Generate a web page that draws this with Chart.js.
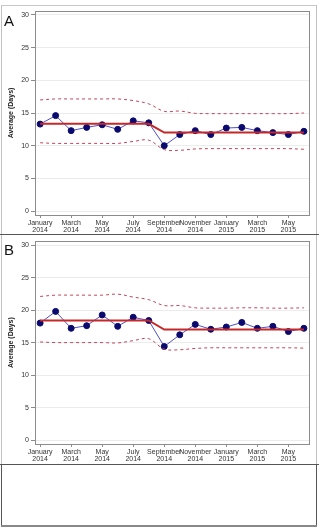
<!DOCTYPE html>
<html>
<head>
<meta charset="utf-8">
<script src="https://cdn.jsdelivr.net/npm/chart.js@4.4.1/dist/chart.umd.min.js"></script>
<style>
  html, body { margin: 0; padding: 0; background: #fff; }
  #wrap { position: relative; width: 319px; height: 530px; overflow: hidden; }
  canvas { position: absolute; left: 0; }
  .ln { position: absolute; }
  .lbl { position: absolute; font-family: "Liberation Sans", Arial, sans-serif; font-size: 15px; color: #111; }
</style>
</head>
<body>
<div id="wrap">
  <canvas id="chartA" width="319" height="235" style="top:0"></canvas>
  <canvas id="chartB" width="319" height="229" style="top:235px"></canvas>

  <!-- panel frames -->
  <div class="ln" style="left:1px;top:5px;width:316px;height:1px;background:#c8c8c8"></div>
  <div class="ln" style="left:1px;top:5px;width:1px;height:230px;background:#c0c0c0"></div>
  <div class="ln" style="left:316px;top:5px;width:1px;height:230px;background:#c0c0c0"></div>
  <div class="ln" style="left:0;top:234px;width:319px;height:1px;background:#555"></div>
  <div class="ln" style="left:1px;top:235px;width:1px;height:229px;background:#c0c0c0"></div>
  <div class="ln" style="left:316px;top:235px;width:1px;height:229px;background:#c0c0c0"></div>
  <div class="ln" style="left:0;top:464px;width:319px;height:1px;background:#555"></div>
  <div class="ln" style="left:1px;top:464px;width:1px;height:62px;background:#555"></div>
  <div class="ln" style="left:316px;top:464px;width:1px;height:62px;background:#555"></div>
  <div class="ln" style="left:1px;top:525px;width:316px;height:2px;background:#888"></div>

  <div class="lbl" style="left:4px;top:12px">A</div>
  <div class="lbl" style="left:4px;top:241px">B</div>
</div>

<script>
// month-by-month, January 2014 .. June 2015
var tickLabels = [
  ["January", "2014"], ["March", "2014"], ["May", "2014"], ["July", "2014"],
  ["September", "2014"], ["November", "2014"], ["January", "2015"], ["March", "2015"], ["May", "2015"]
];

// panel A
var avgA    = [13.3, 14.6, 12.3, 12.8, 13.2, 12.5, 13.8, 13.5, 10.0, 11.7, 12.3, 11.7, 12.7, 12.8, 12.3, 12.0, 11.7, 12.2];
var centerA = [13.35, 13.35, 13.35, 13.35, 13.35, 13.35, 13.35, 13.35, 12.0, 12.0, 12.0, 12.0, 12.0, 12.0, 12.0, 12.0, 12.0, 12.0];
var uclA    = [17.0, 17.15, 17.15, 17.15, 17.15, 17.15, 16.9, 16.4, 15.25, 15.3, 14.95, 14.9, 14.9, 14.9, 14.9, 14.9, 14.9, 15.0];
var lclA    = [10.45, 10.35, 10.35, 10.35, 10.35, 10.35, 10.65, 10.85, 9.4, 9.3, 9.5, 9.55, 9.55, 9.55, 9.55, 9.55, 9.55, 9.45];

// panel B
var avgB    = [18.0, 19.8, 17.2, 17.6, 19.25, 17.5, 18.9, 18.4, 14.4, 16.2, 17.8, 17.05, 17.4, 18.1, 17.2, 17.5, 16.7, 17.2];
var centerB = [18.4, 18.4, 18.4, 18.4, 18.4, 18.4, 18.4, 18.4, 17.0, 17.0, 17.0, 17.0, 17.0, 17.0, 17.0, 17.0, 17.0, 17.0];
var uclB    = [22.1, 22.3, 22.3, 22.3, 22.3, 22.45, 22.0, 21.6, 20.7, 20.7, 20.35, 20.3, 20.3, 20.35, 20.35, 20.3, 20.3, 20.35];
var lclB    = [15.1, 15.0, 15.0, 15.0, 15.0, 14.95, 15.3, 15.6, 14.0, 13.9, 14.1, 14.2, 14.2, 14.2, 14.2, 14.2, 14.2, 14.15];

var yTicks = [0, 5, 10, 15, 20, 25, 30];

function pts(arr)
{
        return arr.map(function(v, i) { return { x: i, y: v }; });
}

// frame round the plot area
var frame = {
        id: "frame",
        afterDraw: function(chart)
        {
                var a = chart.chartArea;
                var c = chart.ctx;
                c.save();
                c.strokeStyle = "#8c8c8c";
                c.lineWidth = 1;
                c.strokeRect(Math.round(a.left) + 0.5, Math.round(a.top) + 0.5,
                             Math.round(a.right - a.left), Math.round(a.bottom - a.top));
                c.restore();
        }
};

function makeChart(id, avg, center, ucl, lcl, padTop)
{
        var ctx = document.getElementById(id).getContext("2d");
        var limitStyle = {
                borderColor: "#c2455a",
                borderWidth: 1,
                borderDash: [3, 3],
                pointRadius: 0,
                tension: 0.35,
                fill: false
        };
        return new Chart(ctx, {
                type: "line",
                data: {
                        datasets: [
                                Object.assign({ data: pts(ucl) }, limitStyle),
                                Object.assign({ data: pts(lcl) }, limitStyle),
                                {
                                        data: pts(center),
                                        borderColor: "#c62828",
                                        borderWidth: 2,
                                        pointRadius: 0,
                                        tension: 0
                                },
                                {
                                        data: pts(avg),
                                        borderColor: "#5050c8",
                                        borderWidth: 1,
                                        pointRadius: 3,
                                        pointBackgroundColor: "#0a0a6e",
                                        pointBorderColor: "#0a0a6e",
                                        tension: 0
                                }
                        ]
                },
                options: {
                        responsive: false,
                        animation: false,
                        devicePixelRatio: 1,
                        layout: { padding: { top: padTop, right: 10, left: 0, bottom: 0 } },
                        plugins: { legend: { display: false }, tooltip: { enabled: false } },
                        scales: {
                                x: {
                                        type: "linear",
                                        min: -0.33,
                                        max: 17.33,
                                        afterBuildTicks: function(scale)
                                        {
                                                scale.ticks = tickLabels.map(function(t, i) { return { value: i * 2 }; });
                                        },
                                        afterFit: function(scale) { scale.height = 20; },
                                        border: { display: false },
                                        grid: { drawOnChartArea: false, drawTicks: true, tickLength: 3, tickColor: "#8c8c8c" },
                                        ticks: {
                                                autoSkip: false,
                                                maxRotation: 0,
                                                padding: 1,
                                                color: "#333",
                                                font: { family: "Liberation Sans", size: 7, lineHeight: 1.1 },
                                                callback: function(value) { return tickLabels[value / 2]; }
                                        }
                                },
                                y: {
                                        min: -0.6,
                                        max: 30.6,
                                        afterBuildTicks: function(scale)
                                        {
                                                scale.ticks = yTicks.map(function(v) { return { value: v }; });
                                        },
                                        afterFit: function(scale) { scale.width = 35; },
                                        border: { display: false },
                                        grid: { color: "#ececec", tickColor: "#8c8c8c", tickLength: 4 },
                                        ticks: {
                                                padding: 2,
                                                color: "#333",
                                                font: { family: "Liberation Sans", size: 7 }
                                        },
                                        title: {
                                                display: true,
                                                text: "Average (Days)",
                                                color: "#222",
                                                padding: { top: 7, bottom: 0 },
                                                font: { family: "Liberation Sans", size: 7, weight: "bold" }
                                        }
                                }
                        }
                },
                plugins: [frame]
        });
}

makeChart("chartA", avgA, centerA, uclA, lclA, 11);
makeChart("chartB", avgB, centerB, uclB, lclB, 6);
</script>
</body>
</html>
